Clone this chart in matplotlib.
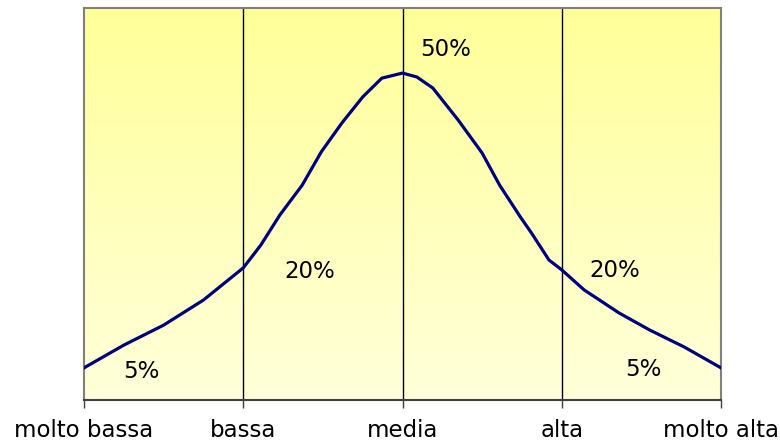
import numpy as np
import matplotlib
matplotlib.use("Agg")
from matplotlib import pyplot as plt
from matplotlib.colors import LinearSegmentedColormap

categories = ["molto bassa", "bassa", "media", "alta", "molto alta"]

# curve (x in category units, y on a 0-100 scale)
curve_x = [0, 0.25, 0.5, 0.75, 1.0, 1.11, 1.23, 1.37, 1.49, 1.62, 1.75, 1.87, 2.0,
           2.09, 2.19, 2.35, 2.50, 2.61, 2.74, 2.81, 2.92, 3.0, 3.14, 3.36, 3.55, 3.77, 4.0]
curve_y = [8.2, 14.0, 19.1, 25.5, 33.7, 39.5, 47.2, 54.8, 63.3, 70.7, 77.3, 82.1, 83.4,
           82.4, 79.6, 71.4, 63.0, 54.8, 46.7, 42.6, 35.7, 33.2, 28.1, 22.2, 17.9, 13.5, 8.2]

pct_labels = ["5%", "20%", "50%", "20%", "5%"]
pct_x = [0.36, 1.42, 2.27, 3.33, 3.51]
pct_y = [7.2, 32.7, 89.5, 33.0, 7.9]

fig = plt.figure(figsize=(7.8, 4.41), dpi=100)
ax = fig.add_axes([84/780, 41/441, (721-84)/780, (400-8)/441])

# yellow gradient background
cmap = LinearSegmentedColormap.from_list("yel", ["#FFFFDA", "#FFFF99"])
grad = np.linspace(0, 1, 256).reshape(-1, 1)
ax.imshow(grad, cmap=cmap, aspect="auto", extent=[0, 4, 0, 100], origin="lower", zorder=0)

for xv in [1, 2, 3]:
    ax.axvline(xv, color="black", lw=1, zorder=1)

ax.plot(curve_x, curve_y, color="#000080", lw=2.3, zorder=3, solid_joinstyle="round")

for t, x, y in zip(pct_labels, pct_x, pct_y):
    ax.text(x, y, t, fontsize=16.5, ha="center", va="center", color="black", zorder=4)

ax.set_xlim(0, 4)
ax.set_ylim(0, 100)
ax.set_xticks(range(len(categories)))
ax.set_xticklabels(categories, fontsize=16.5)
ax.set_yticks([])
ax.tick_params(axis="x", direction="out", length=6, width=1, color="#404040", pad=8)

for s in ["left", "top", "right"]:
    ax.spines[s].set_color("#808080")
    ax.spines[s].set_linewidth(1.5)
ax.spines["bottom"].set_color("#404040")
ax.spines["bottom"].set_linewidth(1.5)

fig.savefig("out.png", dpi=100)
